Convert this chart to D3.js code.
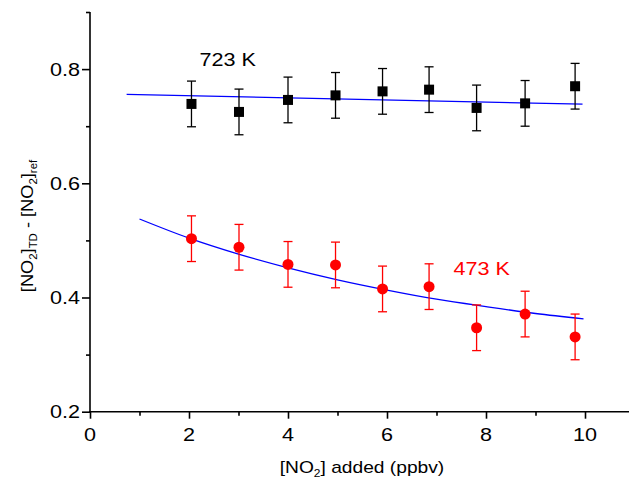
<!DOCTYPE html>
<html>
<head>
<meta charset="utf-8">
<script src="https://cdn.jsdelivr.net/npm/d3@7"></script>
<style>
  html, body { margin: 0; padding: 0; background: #fff; }
  svg { display: block; font-family: "Liberation Sans", Arial, sans-serif; }
</style>
</head>
<body>
<svg id="chart" width="629" height="478"></svg>
<script>
// NO2 added (ppbv) at each measurement step
const no2Added = [2.05, 3.01, 4.0, 4.96, 5.91, 6.85, 7.81, 8.79, 9.80];

// [NO2]TD - [NO2]ref at 723 K, with error half-widths
const diff723 = [0.739, 0.725, 0.746, 0.754, 0.761, 0.764, 0.732, 0.740, 0.770];
const err723  = [0.040, 0.040, 0.040, 0.040, 0.040, 0.040, 0.040, 0.040, 0.040];

// [NO2]TD - [NO2]ref at 473 K, with error half-widths
const diff473 = [0.503, 0.488, 0.458, 0.457, 0.415, 0.419, 0.347, 0.371, 0.331];
const err473  = [0.040, 0.040, 0.040, 0.040, 0.040, 0.040, 0.040, 0.040, 0.040];

// Fitted trend lines (x, y)
const fit723X = [0.74, 9.95];
const fit723Y = [0.7556, 0.7386];
const fit473X = [1.0, 2.0, 3.0, 4.0, 5.0, 6.0, 7.0, 8.0, 9.0, 9.97];
const fit473Y = [0.5375, 0.504, 0.476, 0.452, 0.431, 0.413, 0.397, 0.384, 0.372, 0.3625];

// Axis ticks
const xMajor = [0, 2, 4, 6, 8, 10];
const xMinor = [1, 3, 5, 7, 9, 11];
const yMajor = [0.2, 0.4, 0.6, 0.8];
const yMinor = [0.3, 0.5, 0.7, 0.9];

const svg = d3.select("#chart");
const x = d3.scaleLinear().domain([0, 11]).range([90, 634.5]);
const y = d3.scaleLinear().domain([0.2, 0.9]).range([411.7, 12]);
const SX = 1.2; // horizontal glyph stretch

// Axes
const axisW = 1.6;
const xAxis = svg.append("g").attr("transform", `translate(0,${y(0.2)})`);
xAxis.call(d3.axisBottom(x).tickValues(xMajor).tickSize(7).tickFormat(""));
const xAxisMinor = svg.append("g").attr("transform", `translate(0,${y(0.2)})`);
xAxisMinor.call(d3.axisBottom(x).tickValues(xMinor).tickSize(4).tickFormat(""));
const yAxis = svg.append("g").attr("transform", `translate(${x(0)},0)`);
yAxis.call(d3.axisLeft(y).tickValues(yMajor).tickSize(8).tickFormat(""));
const yAxisMinor = svg.append("g").attr("transform", `translate(${x(0)},0)`);
yAxisMinor.call(d3.axisLeft(y).tickValues(yMinor).tickSize(4).tickFormat(""));
svg.selectAll(".domain").remove();
svg.selectAll(".tick line").attr("stroke", "#000").attr("stroke-width", axisW);

svg.append("line").attr("x1", x(0) - 1).attr("x2", 629)
  .attr("y1", y(0.2)).attr("y2", y(0.2))
  .attr("stroke", "#000").attr("stroke-width", axisW);
svg.append("line").attr("x1", x(0)).attr("x2", x(0))
  .attr("y1", y(0.9)).attr("y2", y(0.2) + 1)
  .attr("stroke", "#000").attr("stroke-width", axisW);

// Tick labels
svg.append("g").selectAll("text").data(xMajor).join("text")
  .attr("transform", d => `translate(${x(d)},${y(0.2) + 29}) scale(${SX},1)`)
  .attr("text-anchor", "middle").attr("font-size", 18).attr("fill", "#000")
  .text(d => d);
svg.append("g").selectAll("text").data(yMajor).join("text")
  .attr("transform", d => `translate(80,${y(d) + 6.5}) scale(${SX},1)`)
  .attr("text-anchor", "end").attr("font-size", 18).attr("fill", "#000")
  .text(d => d.toFixed(1));

// Axis titles
const xt = svg.append("text")
  .attr("transform", `translate(362,472.5) scale(1.2,1)`)
  .attr("text-anchor", "middle").attr("font-size", 16).attr("fill", "#000");
xt.append("tspan").text("[NO");
xt.append("tspan").attr("font-size", 10).attr("dy", 4).text("2");
xt.append("tspan").attr("dy", -4).text("] added (ppbv)");

const yt = svg.append("text")
  .attr("transform", `translate(33,226) rotate(-90) scale(1.14,1)`)
  .attr("text-anchor", "middle").attr("font-size", 16).attr("fill", "#000");
yt.append("tspan").text("[NO");
yt.append("tspan").attr("font-size", 10).attr("dy", 4).text("2");
yt.append("tspan").attr("dy", -4).text("]");
yt.append("tspan").attr("font-size", 10).attr("dy", 4).text("TD");
yt.append("tspan").attr("dy", -4).text(" - [NO");
yt.append("tspan").attr("font-size", 10).attr("dy", 4).text("2");
yt.append("tspan").attr("dy", -4).text("]");
yt.append("tspan").attr("font-size", 10).attr("dy", 4).text("ref");

// Fit lines
const line = d3.line().x(d => x(d[0])).y(d => y(d[1])).curve(d3.curveMonotoneX);
svg.append("path").datum(d3.zip(fit723X, fit723Y)).attr("d", line)
  .attr("fill", "none").attr("stroke", "#0000ff").attr("stroke-width", 1.3);
svg.append("path").datum(d3.zip(fit473X, fit473Y)).attr("d", line)
  .attr("fill", "none").attr("stroke", "#0000ff").attr("stroke-width", 1.3);

// Error bars
function errorBars(vals, errs, color) {
  const g = svg.append("g").attr("stroke", color).attr("stroke-width", 1.3);
  const rows = no2Added.map((d, i) => ({ x: d, v: vals[i], e: errs[i] }));
  g.selectAll(".v").data(rows).join("line")
    .attr("x1", d => x(d.x)).attr("x2", d => x(d.x))
    .attr("y1", d => y(d.v + d.e)).attr("y2", d => y(d.v - d.e));
  g.selectAll(".t").data(rows).join("line")
    .attr("x1", d => x(d.x) - 4.5).attr("x2", d => x(d.x) + 4.5)
    .attr("y1", d => y(d.v + d.e)).attr("y2", d => y(d.v + d.e));
  g.selectAll(".b").data(rows).join("line")
    .attr("x1", d => x(d.x) - 4.5).attr("x2", d => x(d.x) + 4.5)
    .attr("y1", d => y(d.v - d.e)).attr("y2", d => y(d.v - d.e));
}
errorBars(diff723, err723, "#000");
errorBars(diff473, err473, "#ff0000");

// Markers
svg.append("g").selectAll("rect").data(d3.zip(no2Added, diff723)).join("rect")
  .attr("x", d => x(d[0]) - 5).attr("y", d => y(d[1]) - 5)
  .attr("width", 10).attr("height", 10).attr("fill", "#000");
svg.append("g").selectAll("circle").data(d3.zip(no2Added, diff473)).join("circle")
  .attr("cx", d => x(d[0])).attr("cy", d => y(d[1])).attr("r", 5.5)
  .attr("fill", "#ff0000");

// Series labels
svg.append("text").attr("transform", `translate(199.5,66) scale(${SX},1)`)
  .attr("font-size", 18).attr("fill", "#000").text("723 K");
svg.append("text").attr("transform", `translate(453.5,275) scale(${SX},1)`)
  .attr("font-size", 18).attr("fill", "#ff0000").text("473 K");
</script>
</body>
</html>
